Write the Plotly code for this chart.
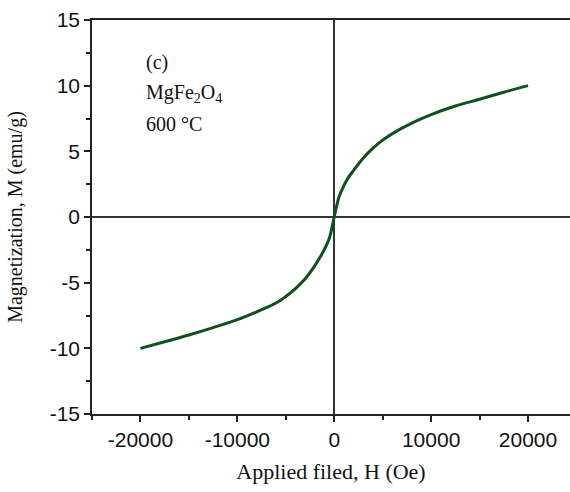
import plotly.graph_objects as go

# Magnetization loop of MgFe2O4 annealed at 600 °C
field_oe = [-20000, -17500, -15000, -12500, -10000, -8000, -6000, -5000, -4000,
            -3000, -2000, -1500, -1000, -500, 0, 500, 1000, 1500, 2000, 3000,
            4000, 5000, 6000, 8000, 10000, 12500, 15000, 17500, 20000]
magnetization = [-10.0, -9.5, -8.98, -8.42, -7.82, -7.22, -6.55, -6.05, -5.45,
                 -4.7, -3.7, -3.1, -2.45, -1.6, 0.0, 1.55, 2.4, 3.05, 3.55, 4.5,
                 5.25, 5.85, 6.35, 7.15, 7.8, 8.45, 8.97, 9.5, 10.0]

x_ticks = [-20000, -10000, 0, 10000, 20000]
y_ticks = [-15, -10, -5, 0, 5, 10, 15]

label_lines = ["(c)", "MgFe<sub>2</sub>O<sub>4</sub>", "600 °C"]

SERIF = "Liberation Serif, Times New Roman, serif"
SANS = "Liberation Sans, Arial, sans-serif"
AXIS_COLOR = "#222222"

fig = go.Figure()
fig.add_trace(go.Scatter(
    x=field_oe, y=magnetization, mode="lines",
    line=dict(color="#0c5219", width=3, shape="spline", smoothing=1.0),
    showlegend=False,
))

fig.update_xaxes(
    range=[-25000, 24330],
    tickvals=x_ticks, ticktext=[str(v) for v in x_ticks],
    ticks="outside", ticklen=6, tickwidth=1.5, tickcolor=AXIS_COLOR,
    minor=dict(ticks="outside", dtick=5000, tick0=0, ticklen=4,
               tickwidth=1.5, tickcolor=AXIS_COLOR),
    showline=True, linecolor=AXIS_COLOR, linewidth=1.5, mirror=True,
    showgrid=False,
    zeroline=True, zerolinecolor="#333333", zerolinewidth=1.5,
    tickfont=dict(family=SANS, size=21, color="#111111"),
    title=dict(text="Applied filed, H (Oe)",
               font=dict(family=SERIF, size=22, color="#111111"), standoff=14),
)
fig.update_yaxes(
    range=[-15, 15],
    tickvals=y_ticks, ticktext=[str(v) for v in y_ticks],
    ticks="outside", ticklen=6, tickwidth=1.5, tickcolor=AXIS_COLOR,
    minor=dict(ticks="outside", dtick=2.5, tick0=0, ticklen=4,
               tickwidth=1.5, tickcolor=AXIS_COLOR),
    showline=True, linecolor=AXIS_COLOR, linewidth=1.5, mirror=False,
    showgrid=False,
    zeroline=True, zerolinecolor="#333333", zerolinewidth=1.5,
    tickfont=dict(family=SANS, size=21, color="#111111"),
    title=dict(text="Magnetization, M (emu/g)",
               font=dict(family=SERIF, size=20, color="#111111"), standoff=22),
)

for i, line in enumerate(label_lines):
    fig.add_annotation(
        text=line, xref="paper", yref="paper", x=0.108, y=0.893 - i * 0.157 / 2,
        xanchor="left", yanchor="middle", showarrow=False,
        font=dict(family=SERIF, size=20, color="#111111"),
    )

fig.update_layout(
    width=570, height=492,
    margin=dict(l=92, r=0, t=20, b=78),
    paper_bgcolor="white", plot_bgcolor="white",
)

fig.write_html("out.html")
